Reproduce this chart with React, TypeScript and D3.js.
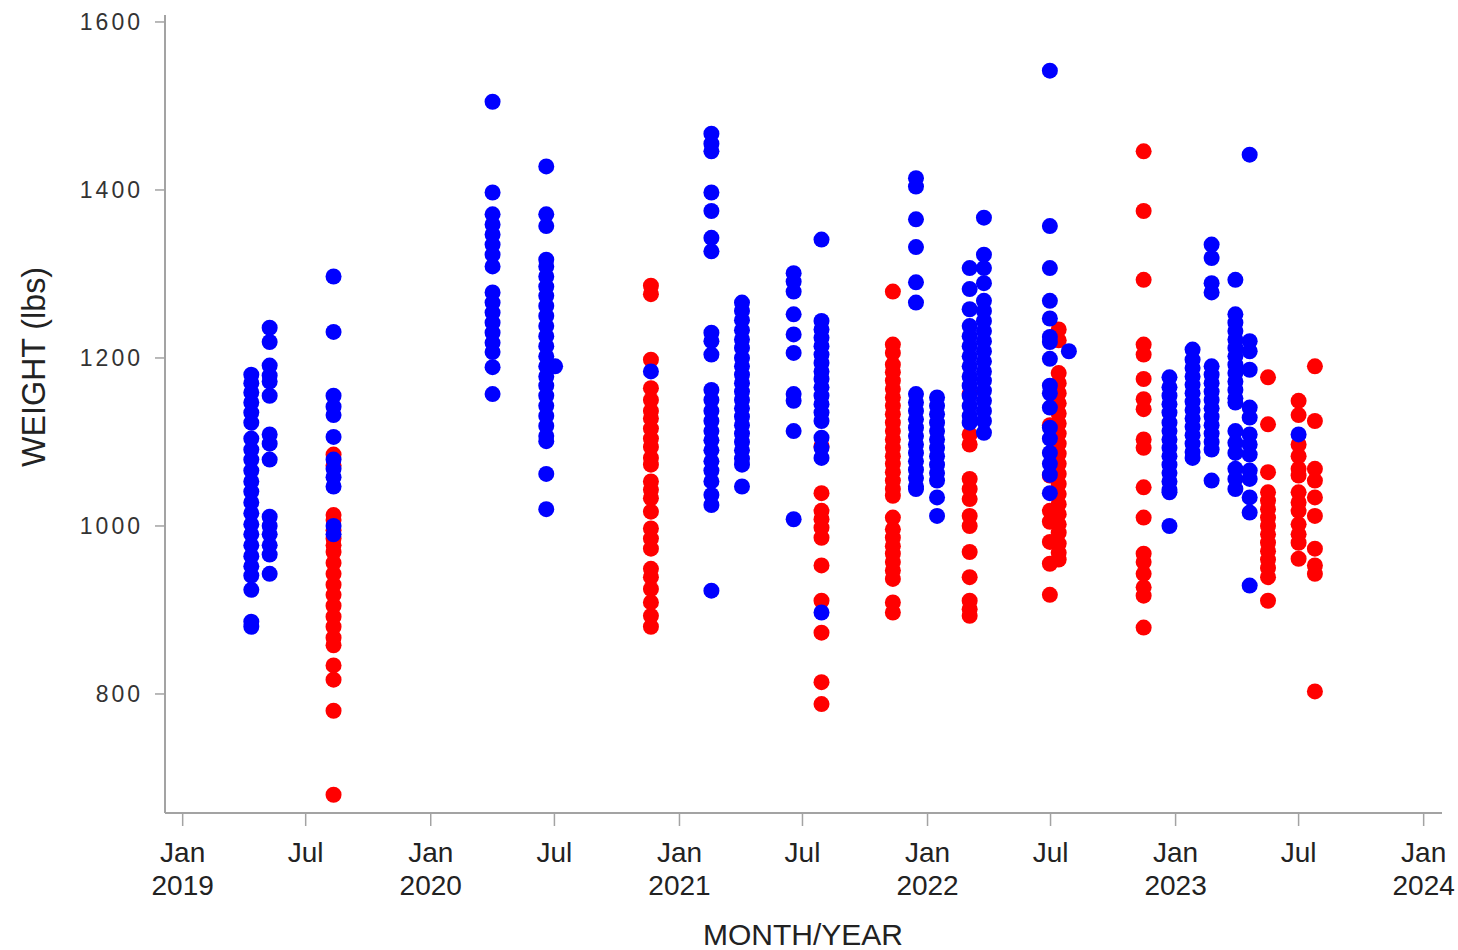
import React from 'react';
import * as d3 from 'd3';

// weights (lbs) per weigh date, split by herd (A = blue, B = red)
const aApr2019 = [1180, 1170, 1159, 1147, 1135, 1123, 1104, 1091, 1079, 1066, 1053, 1041, 1028, 1015, 1002, 990, 977, 964, 952, 941, 924, 886, 880];
const aMay2019 = [1236, 1219, 1191, 1179, 1172, 1155, 1109, 1098, 1079, 1011, 1000, 990, 977, 966, 943];
const aAug2019 = [1297, 1231, 1155, 1142, 1132, 1106, 1079, 1068, 1058, 1047, 1000, 990];
const bAug2019 = [1085, 1072, 1013, 1007, 995, 985, 977, 969, 956, 943, 930, 918, 905, 892, 880, 867, 858, 834, 817, 780, 680];
const aApr2020 = [1505, 1397, 1371, 1359, 1347, 1335, 1323, 1309, 1278, 1266, 1254, 1242, 1230, 1218, 1207, 1189, 1157];
const aJun2020 = [1428, 1371, 1357, 1317, 1309, 1297, 1285, 1274, 1262, 1250, 1238, 1226, 1214, 1202, 1190, 1178, 1167, 1155, 1143, 1131, 1119, 1107, 1101, 1062, 1020];
const aJul2020 = [1190];
const aNov2020 = [1184];
const bNov2020 = [1286, 1276, 1198, 1164, 1150, 1137, 1128, 1116, 1104, 1094, 1081, 1073, 1053, 1043, 1033, 1017, 997, 985, 973, 949, 939, 925, 909, 893, 880];
const aFeb2021 = [1467, 1455, 1446, 1397, 1375, 1343, 1327, 1230, 1220, 1204, 1162, 1150, 1137, 1125, 1113, 1102, 1090, 1077, 1066, 1053, 1037, 1025, 923];
const aApr2021 = [1266, 1256, 1245, 1233, 1222, 1212, 1200, 1190, 1180, 1170, 1160, 1150, 1140, 1130, 1120, 1110, 1100, 1090, 1080, 1073, 1047];
const aJun2021 = [1301, 1291, 1279, 1252, 1228, 1206, 1157, 1149, 1113, 1008];
const aJul2021 = [1341, 1244, 1234, 1224, 1214, 1204, 1194, 1184, 1175, 1165, 1155, 1145, 1135, 1125, 1105, 1093, 1081, 897];
const bJul2021 = [1095, 1039, 1018, 1008, 998, 986, 953, 911, 873, 814, 788];
const bNov2021 = [1279, 1216, 1206, 1192, 1183, 1173, 1163, 1153, 1143, 1133, 1123, 1113, 1103, 1093, 1083, 1074, 1064, 1054, 1044, 1036, 1010, 996, 986, 976, 967, 957, 947, 937, 909, 897];
const aDec2021 = [1414, 1404, 1365, 1332, 1290, 1266, 1157, 1147, 1137, 1127, 1117, 1107, 1097, 1087, 1077, 1067, 1057, 1047, 1044];
const aJan2022 = [1153, 1143, 1133, 1123, 1113, 1103, 1093, 1083, 1073, 1063, 1054, 1034, 1012];
const aMar2022 = [1307, 1282, 1258, 1238, 1226, 1214, 1202, 1190, 1178, 1167, 1155, 1143, 1131, 1123];
const bMar2022 = [1157, 1109, 1097, 1056, 1044, 1032, 1012, 1000, 969, 939, 911, 901, 893];
const aMar2022b = [1367, 1323, 1307, 1289, 1268, 1256, 1244, 1232, 1220, 1208, 1196, 1184, 1173, 1161, 1149, 1137, 1125, 1111];
const aJun2022 = [1542, 1357, 1307, 1268, 1247, 1225, 1219, 1199, 1167, 1158, 1141, 1117, 1104, 1087, 1074, 1061, 1039];
const bJun2022 = [1120, 1060, 1018, 1005, 981, 955, 918];
const bJul2022 = [1234, 1221, 1182, 1170, 1158, 1146, 1134, 1122, 1110, 1098, 1086, 1074, 1062, 1050, 1038, 1026, 1014, 1002, 992, 979, 968, 960];
const aJul2022 = [1208];
const bNov2022 = [1446, 1375, 1293, 1216, 1204, 1175, 1151, 1139, 1103, 1093, 1046, 1010, 967, 957, 943, 927, 917, 879];
const aDec2022 = [1177, 1165, 1155, 1145, 1135, 1123, 1113, 1103, 1093, 1083, 1073, 1063, 1053, 1043, 1040, 1000];
const aJan2023 = [1210, 1198, 1188, 1178, 1168, 1158, 1148, 1138, 1128, 1118, 1108, 1098, 1088, 1081];
const aFeb2023 = [1335, 1319, 1289, 1278, 1190, 1180, 1170, 1160, 1150, 1140, 1130, 1120, 1110, 1100, 1091, 1054];
const aMar2023 = [1293, 1252, 1242, 1232, 1222, 1212, 1202, 1192, 1182, 1172, 1162, 1152, 1147, 1113, 1099, 1087, 1068, 1056, 1044];
const aApr2023 = [1442, 1220, 1208, 1186, 1141, 1129, 1109, 1097, 1085, 1066, 1056, 1034, 1016, 929];
const bMay2023 = [1177, 1121, 1064, 1040, 1030, 1020, 1010, 1000, 990, 980, 970, 960, 950, 939, 911];
const bJul2023 = [1149, 1132, 1097, 1083, 1068, 1060, 1040, 1028, 1018, 1002, 990, 980, 961];
const aJul2023 = [1109];
const bJul2023b = [1190, 1125, 1068, 1054, 1034, 1012, 973, 953, 943, 803];

const weighDates = [
  { date: '2019-04-12', herd: 'A', values: aApr2019 },
  { date: '2019-05-09', herd: 'A', values: aMay2019 },
  { date: '2019-08-11', herd: 'B', values: bAug2019 },
  { date: '2019-08-11', herd: 'A', values: aAug2019 },
  { date: '2020-04-01', herd: 'A', values: aApr2020 },
  { date: '2020-06-19', herd: 'A', values: aJun2020 },
  { date: '2020-07-02', herd: 'A', values: aJul2020 },
  { date: '2020-11-20', herd: 'B', values: bNov2020 },
  { date: '2020-11-20', herd: 'A', values: aNov2020 },
  { date: '2021-02-17', herd: 'A', values: aFeb2021 },
  { date: '2021-04-03', herd: 'A', values: aApr2021 },
  { date: '2021-06-18', herd: 'A', values: aJun2021 },
  { date: '2021-07-29', herd: 'B', values: bJul2021 },
  { date: '2021-07-29', herd: 'A', values: aJul2021 },
  { date: '2021-11-11', herd: 'B', values: bNov2021 },
  { date: '2021-12-15', herd: 'A', values: aDec2021 },
  { date: '2022-01-15', herd: 'A', values: aJan2022 },
  { date: '2022-03-04', herd: 'B', values: bMar2022 },
  { date: '2022-03-04', herd: 'A', values: aMar2022 },
  { date: '2022-03-25', herd: 'A', values: aMar2022b },
  { date: '2022-06-30', herd: 'B', values: bJun2022 },
  { date: '2022-07-13', herd: 'B', values: bJul2022 },
  { date: '2022-06-30', herd: 'A', values: aJun2022 },
  { date: '2022-07-28', herd: 'A', values: aJul2022 },
  { date: '2022-11-15', herd: 'B', values: bNov2022 },
  { date: '2022-12-23', herd: 'A', values: aDec2022 },
  { date: '2023-01-26', herd: 'A', values: aJan2023 },
  { date: '2023-02-23', herd: 'A', values: aFeb2023 },
  { date: '2023-03-30', herd: 'A', values: aMar2023 },
  { date: '2023-04-20', herd: 'A', values: aApr2023 },
  { date: '2023-05-17', herd: 'B', values: bMay2023 },
  { date: '2023-07-01', herd: 'B', values: bJul2023 },
  { date: '2023-07-01', herd: 'A', values: aJul2023 },
  { date: '2023-07-25', herd: 'B', values: bJul2023b },
];

const yTicks = [800, 1000, 1200, 1400, 1600];
const monthNames = ['Jan', 'Jul'];

const parse = d3.timeParse('%Y-%m-%d');

export default function App() {
  const W = 1458, H = 950;
  const left = 165, right = 1442, top = 15, bottom = 813;

  const x = d3.scaleTime()
    .domain([parse('2018-12-06'), parse('2024-01-28')])
    .range([left, right]);
  const y = d3.scaleLinear().domain([658.3, 1608.3]).range([bottom, top]);
  const color = d3.scaleOrdinal<string, string>().domain(['A', 'B']).range(['#0000ff', '#ff0000']);

  // red first so blue sits on top
  const ordered = [...weighDates.filter(d => d.herd === 'B'), ...weighDates.filter(d => d.herd === 'A')];
  const points = ordered.flatMap(g => g.values.map(v => ({ date: parse(g.date)!, herd: g.herd, v })));

  const xTicks = x.ticks(d3.timeMonth.every(6)!);
  const axisColor = '#a3a3a3';
  const font = '"Liberation Sans", Arial, sans-serif';

  return (
    <svg width={W} height={H} style={{ position: 'absolute', left: 0, top: 0, background: '#fff' }} fontFamily={font}>
      {points.map((p, i) => (
        <circle key={i} cx={x(p.date)} cy={y(p.v)} r={8} fill={color(p.herd)} />
      ))}

      <line x1={left} x2={left} y1={top} y2={bottom} stroke={axisColor} strokeWidth={2} />
      {yTicks.map(t => (
        <g key={t}>
          <line x1={left - 10} x2={left} y1={y(t)} y2={y(t)} stroke={axisColor} strokeWidth={1.5} />
          <text x={left - 22} y={y(t)} dy="0.35em" textAnchor="end" fontSize={23} letterSpacing={3} fill="#333">{t}</text>
        </g>
      ))}
      <text transform={`translate(45, 367) rotate(-90)`} textAnchor="middle" fontSize={34}
        textLength={200} lengthAdjust="spacingAndGlyphs" fill="#222">WEIGHT  (lbs)</text>

      <line x1={left} x2={right} y1={bottom} y2={bottom} stroke={axisColor} strokeWidth={2} />
      {xTicks.map(t => (
        <g key={+t}>
          <line x1={x(t)} x2={x(t)} y1={bottom} y2={bottom + 13} stroke={axisColor} strokeWidth={1.5} />
          <text x={x(t)} y={862} textAnchor="middle" fontSize={28} fill="#222">{monthNames[t.getMonth() === 0 ? 0 : 1]}</text>
          {t.getMonth() === 0 && (
            <text x={x(t)} y={895} textAnchor="middle" fontSize={28} fill="#222">{t.getFullYear()}</text>
          )}
        </g>
      ))}
      <text x={803} y={945} textAnchor="middle" fontSize={30} fill="#222">MONTH/YEAR</text>
    </svg>
  );
}
